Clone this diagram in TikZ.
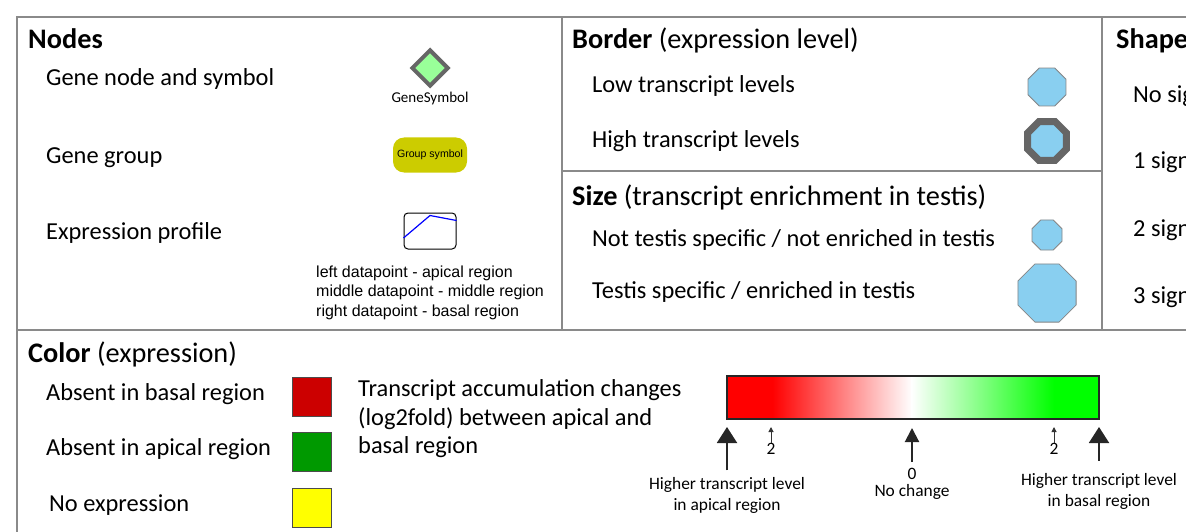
\documentclass[tikz,border=0pt]{standalone}
\usepackage{fontspec}
\setmainfont{Carlito}
\newfontfamily\arialfont{Liberation Sans}
\usepackage{tikz}
\usetikzlibrary{positioning}
\usetikzlibrary{shapes.geometric}
\usetikzlibrary{arrows.meta}

\definecolor{framegrey}{HTML}{8A8A8A}
\definecolor{genegreen}{HTML}{99FF99}
\definecolor{groupolive}{HTML}{CCCC00}
\definecolor{octblue}{HTML}{89CFF0}
\definecolor{rimgrey}{HTML}{666666}
\definecolor{absentred}{HTML}{CC0000}
\definecolor{absentgreen}{HTML}{009900}
\definecolor{noexpr}{HTML}{FFFF00}

\tikzset{
  legend/.style={anchor=west, inner sep=0pt, font=\fontsize{24.4}{28.5}\selectfont, text height=23pt, text depth=6pt},
  title/.style={anchor=west, inner sep=0pt, font=\fontsize{28.3}{32}\selectfont, text height=25pt, text depth=7pt},
  smalllabel/.style={inner sep=0pt, align=center, font=\fontsize{17.4}{21}\selectfont},
  octagon/.style={regular polygon, regular polygon sides=8, inner sep=0pt, fill=octblue, draw=rimgrey!80, line width=0.8pt},
  colorbox/.style={draw=black!70, line width=0.8pt, minimum size=39pt, inner sep=0pt},
  bigarrow/.style={-{Triangle[width=20pt,length=16pt]}, line width=2pt, draw=black!85},
  midarrow/.style={-{Triangle[width=14pt,length=14pt]}, line width=2pt, draw=black!85},
  tinyarrow/.style={-{Triangle[width=5pt,length=5pt]}, line width=1pt, draw=black!80}
}

\begin{document}
\begin{tikzpicture}[x=1pt, y=-1pt]
  \useasboundingbox (0,0) rectangle (1186,532);

  % frame
  \draw[framegrey, line width=1.5pt] (17,545) -- (17,17) -- (1200,17);
  \draw[framegrey, line width=1.5pt] (17,330) -- (1200,330);
  \draw[framegrey, line width=1.5pt] (562,17) -- (562,330);
  \draw[framegrey, line width=1.5pt] (1102,17) -- (1102,330);
  \draw[framegrey, line width=1.5pt] (562,171) -- (1102,171);

  % section titles
  \node[title] (nodesT) at (28,40) {\textbf{Nodes}};
  \node[title] (borderT) at (572,40) {\textbf{Border} (expression level)};
  \node[title] (sizeT) at (572,196) {\textbf{Size} (transcript enrichment in testis)};
  \node[title] (shapeT) at (1116,40) {\textbf{Shape}};
  \node[title] (colorT) at (28,353) {\textbf{Color} (expression)};

  % nodes
  \node[legend] (geneL) at (46,77) {Gene node and symbol};
  \node[legend] (groupL) at (46,155) {Gene group};
  \node[legend] (profileL) at (46,231) {Expression profile};
  \node[diamond, fill=genegreen, draw=rimgrey, line width=4pt, minimum size=37pt, inner sep=0pt] (gene) at (430,68) {};
  \node[inner sep=0pt, font=\fontsize{15}{18}\selectfont] (geneS) at (430,99) {GeneSymbol};
  \node[fill=groupolive, rounded corners=11pt, minimum width=74pt, minimum height=35pt, inner sep=0pt,
        font=\arialfont\fontsize{10.6}{12}\selectfont] (group) at (430,155) {Group symbol};
  \node[draw, rounded corners=4pt, line width=1pt, minimum width=52pt, minimum height=36pt, inner sep=0pt] (profile) at (430,231) {};
  \draw[blue, line width=1.2pt] ([yshift=-7pt]profile.west) -- ([yshift=-3pt]profile.north) -- ([yshift=-8pt]profile.north east);
  \foreach \t [count=\n] in {left datapoint - apical region, middle datapoint - middle region, right datapoint - basal region} {
    \node[anchor=west, inner sep=0pt, font=\arialfont\fontsize{16}{19}\selectfont] (dp\n) at (316,253.5+19.5*\n) {\t};
  }

  % border
  \node[legend] (lowL) at (592,84) {Low transcript levels};
  \node[legend] (highL) at (592,139) {High transcript levels};
  \node[octagon, minimum size=41pt] (low) at (1047,87) {};
  \node[octagon, minimum size=42pt, draw=rimgrey, line width=7pt] (high) at (1047,141) {};

  % size
  \node[legend] (notL) at (592,238) {Not testis specific / not enriched in testis};
  \node[legend] (testisL) at (592,290) {Testis specific / enriched in testis};
  \node[octagon, minimum size=32.5pt] (small) at (1047,235) {};
  \node[octagon, minimum size=63pt] (large) at (1047,293) {};

  % shape
  \foreach \t/\y [count=\n] in {No sig/94, 1 sign/160, 2 sign/228, 3 sign/295} {
    \node[legend] (shape\n) at (1133,\y) {\t};
  }

  % color
  \foreach \t/\c/\x/\y [count=\n] in {Absent in basal region/absentred/46/392, Absent in apical region/absentgreen/46/447, No expression/noexpr/49/503} {
    \node[legend] (colorL\n) at (\x,\y) {\t};
    \node[colorbox, fill=\c] (box\n) at (312,\y+5) {};
  }
  \foreach \t [count=\n] in {Transcript accumulation changes, (log2fold) between apical and, basal region} {
    \node[legend] (accum\n) at (358,359.5+28.5*\n) {\t};
  }

  % gradient bar
  \fill[red] (727,376) rectangle (773,419);
  \shade[left color=red, right color=white] (772.5,376) rectangle (912,419);
  \shade[left color=white, right color=green] (911.5,376) rectangle (1054,419);
  \fill[green] (1053.5,376) rectangle (1099,419);
  \node[draw=black!85, line width=1.3pt, minimum width=372pt, minimum height=43pt, inner sep=0pt] (bar) at (913,397.5) {};

  % arrows and labels
  \coordinate (tipA) at (727,427);
  \coordinate (tipB) at (1099,427);
  \coordinate (tipZ) at (912,428);
  \coordinate (tipL) at (771,427);
  \coordinate (tipR) at (1054,427);
  \node[smalllabel] (apical) at (727,495.5) {Higher transcript level\\in apical region};
  \node[smalllabel] (basal) at (1099,491) {Higher transcript level\\in basal region};
  \node[smalllabel, font=\fontsize{17.4}{17}\selectfont] (zero) at (912,484) {0\\No change};
  \node[smalllabel] (twoL) at (771,449) {2};
  \node[smalllabel] (twoR) at (1054,449) {2};
  \draw[bigarrow] ([yshift=7pt]apical.north) -- (tipA);
  \draw[bigarrow] ([yshift=12pt]basal.north) -- (tipB);
  \draw[midarrow] ([yshift=6pt]zero.north) -- (tipZ);
  \draw[tinyarrow] (twoL.north) -- (tipL);
  \draw[tinyarrow] (twoR.north) -- (tipR);
\end{tikzpicture}
\end{document}
